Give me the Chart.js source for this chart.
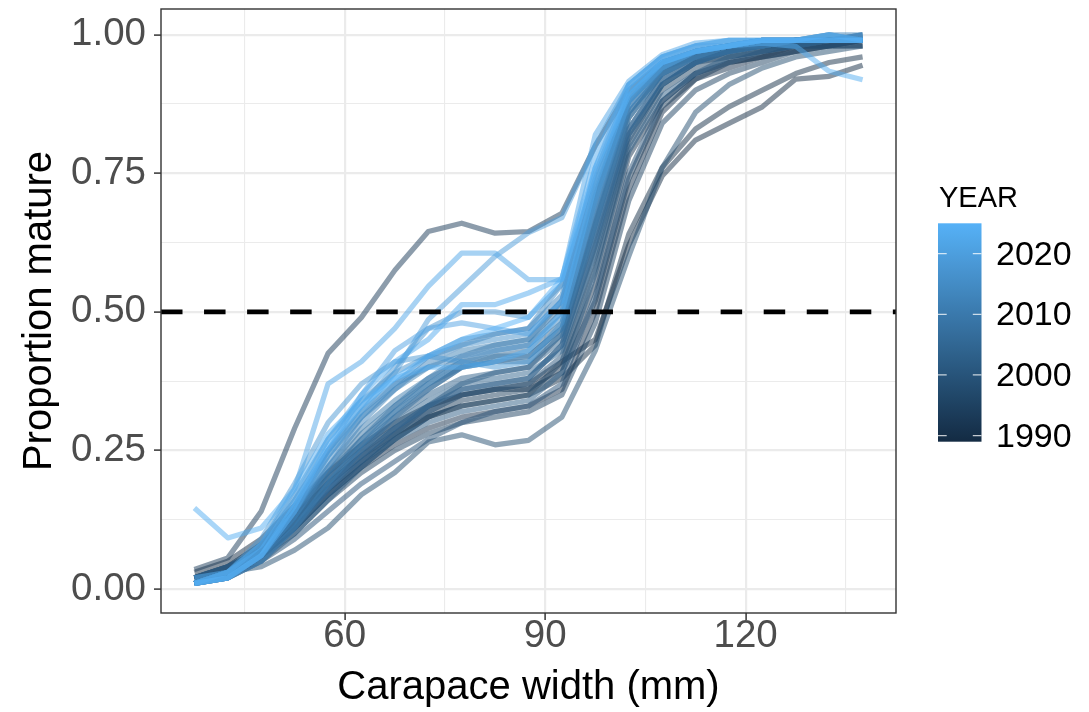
<!DOCTYPE html>
<html>
<head>
<meta charset="utf-8">
<script src="https://cdn.jsdelivr.net/npm/chart.js@4.4.1/dist/chart.umd.min.js"></script>
<style>
  html, body { margin: 0; padding: 0; background: #fff; }
  #wrap { width: 1089px; height: 712px; }
</style>
</head>
<body>
<div id="wrap"><canvas id="maturityChart" width="1089" height="712"></canvas></div>
<script>
// Carapace width bins (mm)
const widths = [37.5, 42.5, 47.5, 52.5, 57.5, 62.5, 67.5, 72.5, 77.5, 82.5, 87.5,
  92.5, 97.5, 102.5, 107.5, 112.5, 117.5, 122.5, 127.5, 132.5, 137.5];

const years = [1989, 1990, 1991, 1992, 1993, 1994, 1995, 1996, 1997, 1998, 1999,
  2000, 2001, 2002, 2003, 2004, 2005, 2006, 2007, 2008, 2009, 2010, 2011, 2012,
  2013, 2014, 2015, 2016, 2017, 2018, 2019, 2021, 2022, 2023, 2024, 2025];

// proportion mature per year, one value per width bin
const p1989 = [0.03, 0.05, 0.09, 0.15, 0.21, 0.26, 0.30, 0.33, 0.35, 0.36, 0.37, 0.41, 0.45, 0.62, 0.745, 0.81, 0.84, 0.87, 0.92, 0.925, 0.945];
const p1990 = [0.02, 0.04, 0.07, 0.13, 0.19, 0.24, 0.28, 0.31, 0.33, 0.34, 0.35, 0.38, 0.44, 0.64, 0.76, 0.83, 0.87, 0.90, 0.93, 0.95, 0.96];
const p1991 = [0.01, 0.03, 0.06, 0.11, 0.17, 0.22, 0.26, 0.29, 0.31, 0.32, 0.33, 0.36, 0.50, 0.72, 0.86, 0.92, 0.94, 0.96, 0.97, 0.98, 0.98];
const p1992 = [0.02, 0.04, 0.08, 0.14, 0.20, 0.25, 0.29, 0.32, 0.35, 0.36, 0.36, 0.40, 0.55, 0.78, 0.88, 0.93, 0.95, 0.96, 0.98, 0.98, 0.99];
const p1993 = [0.035, 0.056, 0.14, 0.29, 0.425, 0.49, 0.575, 0.645, 0.66, 0.642, 0.645, 0.678, 0.80, 0.90, 0.95, 0.97, 0.98, 0.985, 0.99, 0.99, 0.99];
const p1994 = [0.02, 0.04, 0.07, 0.12, 0.18, 0.23, 0.27, 0.31, 0.34, 0.35, 0.36, 0.39, 0.52, 0.74, 0.87, 0.92, 0.95, 0.96, 0.97, 0.98, 0.99];
const p1995 = [0.01, 0.03, 0.06, 0.10, 0.16, 0.21, 0.25, 0.28, 0.30, 0.31, 0.32, 0.35, 0.48, 0.70, 0.84, 0.90, 0.93, 0.95, 0.97, 0.98, 0.98];
const p1996 = [0.02, 0.03, 0.06, 0.11, 0.17, 0.22, 0.27, 0.31, 0.33, 0.34, 0.35, 0.41, 0.58, 0.80, 0.90, 0.94, 0.96, 0.97, 0.98, 0.99, 0.99];
const p1997 = [0.02, 0.04, 0.08, 0.13, 0.19, 0.24, 0.29, 0.33, 0.36, 0.37, 0.38, 0.44, 0.62, 0.82, 0.91, 0.95, 0.96, 0.97, 0.98, 0.99, 0.99];
const p1998 = [0.02, 0.03, 0.04, 0.07, 0.11, 0.17, 0.21, 0.265, 0.278, 0.26, 0.268, 0.31, 0.43, 0.60, 0.76, 0.86, 0.91, 0.94, 0.96, 0.97, 0.98];
const p1999 = [0.01, 0.03, 0.05, 0.09, 0.14, 0.19, 0.23, 0.27, 0.30, 0.32, 0.33, 0.37, 0.53, 0.75, 0.88, 0.93, 0.95, 0.97, 0.98, 0.98, 0.99];
const p2000 = [0.02, 0.04, 0.07, 0.12, 0.18, 0.23, 0.28, 0.32, 0.35, 0.36, 0.37, 0.42, 0.60, 0.81, 0.91, 0.95, 0.97, 0.98, 0.98, 0.99, 0.99];
const p2001 = [0.01, 0.03, 0.06, 0.11, 0.17, 0.23, 0.28, 0.33, 0.37, 0.39, 0.40, 0.46, 0.64, 0.83, 0.92, 0.95, 0.97, 0.98, 0.99, 0.99, 0.99];
const p2002 = [0.01, 0.02, 0.05, 0.10, 0.16, 0.22, 0.27, 0.30, 0.32, 0.33, 0.34, 0.39, 0.57, 0.79, 0.89, 0.93, 0.96, 0.97, 0.98, 0.99, 0.99];
const p2003 = [0.02, 0.04, 0.07, 0.13, 0.20, 0.26, 0.31, 0.35, 0.38, 0.39, 0.40, 0.45, 0.66, 0.85, 0.93, 0.96, 0.97, 0.98, 0.99, 0.99, 0.99];
const p2004 = [0.01, 0.03, 0.06, 0.12, 0.19, 0.25, 0.30, 0.34, 0.37, 0.38, 0.39, 0.43, 0.61, 0.82, 0.91, 0.95, 0.97, 0.98, 0.98, 0.99, 0.99];
const p2005 = [0.01, 0.03, 0.07, 0.14, 0.21, 0.27, 0.32, 0.36, 0.40, 0.42, 0.43, 0.48, 0.67, 0.86, 0.93, 0.96, 0.97, 0.98, 0.99, 0.99, 0.99];
const p2006 = [0.02, 0.03, 0.06, 0.12, 0.18, 0.24, 0.29, 0.33, 0.36, 0.37, 0.38, 0.44, 0.63, 0.83, 0.92, 0.95, 0.97, 0.98, 0.99, 0.99, 0.99];
const p2007 = [0.01, 0.02, 0.05, 0.11, 0.18, 0.25, 0.31, 0.36, 0.40, 0.41, 0.42, 0.47, 0.68, 0.87, 0.94, 0.96, 0.98, 0.98, 0.99, 0.99, 1.00];
const p2008 = [0.01, 0.03, 0.06, 0.13, 0.21, 0.28, 0.33, 0.37, 0.40, 0.41, 0.41, 0.46, 0.65, 0.85, 0.93, 0.96, 0.97, 0.98, 0.99, 0.99, 0.99];
const p2009 = [0.01, 0.02, 0.06, 0.12, 0.20, 0.27, 0.33, 0.38, 0.42, 0.44, 0.45, 0.51, 0.70, 0.88, 0.94, 0.97, 0.98, 0.99, 0.99, 0.99, 1.00];
const p2010 = [0.01, 0.03, 0.07, 0.14, 0.22, 0.29, 0.34, 0.38, 0.41, 0.42, 0.42, 0.47, 0.66, 0.86, 0.93, 0.96, 0.98, 0.98, 0.99, 0.99, 0.99];
const p2011 = [0.01, 0.02, 0.05, 0.11, 0.19, 0.26, 0.32, 0.37, 0.41, 0.43, 0.44, 0.50, 0.71, 0.89, 0.95, 0.97, 0.98, 0.99, 0.99, 1.00, 1.00];
const p2012 = [0.01, 0.03, 0.07, 0.15, 0.24, 0.31, 0.36, 0.40, 0.43, 0.44, 0.45, 0.52, 0.72, 0.88, 0.94, 0.97, 0.98, 0.99, 0.99, 0.99, 0.99];
const p2013 = [0.01, 0.02, 0.06, 0.13, 0.22, 0.30, 0.36, 0.41, 0.44, 0.46, 0.47, 0.53, 0.73, 0.89, 0.95, 0.97, 0.98, 0.99, 0.99, 1.00, 0.99];
const p2014 = [0.01, 0.03, 0.08, 0.16, 0.25, 0.32, 0.37, 0.40, 0.42, 0.43, 0.44, 0.49, 0.69, 0.87, 0.94, 0.97, 0.98, 0.99, 0.99, 0.99, 0.99];
const p2015 = [0.01, 0.02, 0.06, 0.14, 0.23, 0.31, 0.37, 0.42, 0.45, 0.46, 0.47, 0.55, 0.75, 0.90, 0.95, 0.97, 0.98, 0.99, 0.99, 0.99, 1.00];
const p2016 = [0.01, 0.03, 0.08, 0.17, 0.27, 0.34, 0.39, 0.42, 0.44, 0.45, 0.46, 0.52, 0.71, 0.88, 0.95, 0.97, 0.98, 0.99, 0.99, 1.00, 0.99];
const p2017 = [0.01, 0.02, 0.07, 0.15, 0.25, 0.33, 0.40, 0.47, 0.50, 0.50, 0.49, 0.55, 0.74, 0.89, 0.95, 0.97, 0.98, 0.99, 0.99, 0.99, 0.99];
const p2018 = [0.01, 0.03, 0.09, 0.19, 0.30, 0.37, 0.41, 0.42, 0.41, 0.40, 0.41, 0.48, 0.70, 0.88, 0.94, 0.97, 0.98, 0.99, 0.99, 0.99, 0.99];
const p2019 = [0.01, 0.02, 0.06, 0.14, 0.24, 0.32, 0.39, 0.486, 0.543, 0.60, 0.643, 0.67, 0.80, 0.91, 0.96, 0.98, 0.99, 0.99, 0.99, 0.99, 0.99];
const p2021 = [0.01, 0.02, 0.06, 0.14, 0.25, 0.35, 0.43, 0.47, 0.48, 0.47, 0.46, 0.52, 0.76, 0.91, 0.96, 0.98, 0.98, 0.99, 0.99, 0.99, 0.99];
const p2022 = [0.02, 0.03, 0.08, 0.18, 0.37, 0.41, 0.47, 0.546, 0.606, 0.606, 0.558, 0.558, 0.82, 0.916, 0.964, 0.985, 0.99, 0.99, 0.99, 0.99, 0.99];
const p2023 = [0.01, 0.03, 0.07, 0.16, 0.27, 0.35, 0.41, 0.45, 0.513, 0.513, 0.534, 0.56, 0.78, 0.91, 0.96, 0.98, 0.99, 0.99, 0.99, 0.99, 0.99];
const p2024 = [0.146, 0.092, 0.11, 0.18, 0.28, 0.34, 0.38, 0.40, 0.40, 0.41, 0.43, 0.50, 0.73, 0.90, 0.95, 0.97, 0.98, 0.985, 0.979, 0.934, 0.919];
const p2025 = [0.01, 0.02, 0.06, 0.15, 0.26, 0.33, 0.38, 0.42, 0.45, 0.47, 0.49, 0.56, 0.76, 0.89, 0.95, 0.97, 0.98, 0.99, 0.99, 1.00, 0.99];

const proportions = [p1989, p1990, p1991, p1992, p1993, p1994, p1995, p1996, p1997,
  p1998, p1999, p2000, p2001, p2002, p2003, p2004, p2005, p2006, p2007, p2008,
  p2009, p2010, p2011, p2012, p2013, p2014, p2015, p2016, p2017, p2018, p2019,
  p2021, p2022, p2023, p2024, p2025];

// ticks and reference line
const xMajor = [60, 90, 120];
const xMinor = [45, 75, 105, 135];
const yMajor = [0, 0.25, 0.5, 0.75, 1];
const yMinor = [0.125, 0.375, 0.625, 0.875];
const legendBreaks = [1990, 2000, 2010, 2020];
const threshold = 0.5;

const xLimits = [32.5, 142.5];
const yLimits = [-0.0435, 1.0465];
const yearLimits = [1989, 2025];

const FONT = "'Liberation Sans', Arial, Helvetica, sans-serif";
const LOW = [19, 43, 67];     // #132B43
const HIGH = [86, 177, 247];  // #56B1F7

function yearRGB(year) {
  const t = (year - yearLimits[0]) / (yearLimits[1] - yearLimits[0]);
  return LOW.map((c, i) => Math.round(c + (HIGH[i] - c) * t));
}

const isMajor = (list, v) => list.some((m) => Math.abs(m - v) < 1e-9);

// ggplot-like panel border and colourbar legend
const panelAndLegend = {
  id: "panelAndLegend",
  afterDraw(chart) {
    const ctx = chart.ctx;
    const area = chart.chartArea;
    ctx.save();
    ctx.strokeStyle = "#333333";
    ctx.lineWidth = 1.4;
    ctx.strokeRect(area.left, area.top, area.right - area.left, area.bottom - area.top);

    // colourbar
    const bar = { left: 938, top: 223.3, width: 43.5, height: 218.4 };
    const bottom = bar.top + bar.height;
    const grad = ctx.createLinearGradient(0, bottom, 0, bar.top);
    for (let i = 0; i <= 10; i++) {
      const y = yearLimits[0] + (yearLimits[1] - yearLimits[0]) * i / 10;
      const c = yearRGB(y);
      grad.addColorStop(i / 10, `rgb(${c[0]},${c[1]},${c[2]})`);
    }
    ctx.fillStyle = grad;
    ctx.fillRect(bar.left, bar.top, bar.width, bar.height);

    ctx.fillStyle = "#000000";
    ctx.font = `29px ${FONT}`;
    ctx.textAlign = "left";
    ctx.textBaseline = "alphabetic";
    ctx.fillText("YEAR", 939, 206.5);

    ctx.font = `34px ${FONT}`;
    ctx.textBaseline = "middle";
    const tickLen = bar.width / 5;
    legendBreaks.forEach((b) => {
      const y = bottom - (b - yearLimits[0]) / (yearLimits[1] - yearLimits[0]) * bar.height;
      ctx.strokeStyle = "rgba(255,255,255,0.75)";
      ctx.lineWidth = 1.2;
      ctx.beginPath();
      ctx.moveTo(bar.left, y);
      ctx.lineTo(bar.left + tickLen, y);
      ctx.moveTo(bar.left + bar.width - tickLen, y);
      ctx.lineTo(bar.left + bar.width, y);
      ctx.stroke();
      ctx.fillStyle = "#000000";
      ctx.fillText(String(b), 996, y + 1.5);
    });
    ctx.restore();
  },
};

document.addEventListener("DOMContentLoaded", function () {
  const datasets = years.map((year, i) => {
    const c = yearRGB(year);
    return {
      label: String(year),
      data: widths.map((w, j) => ({ x: w, y: proportions[i][j] })),
      borderColor: `rgba(${c[0]},${c[1]},${c[2]},0.5)`,
      borderWidth: 5.2,
      borderJoinStyle: "round",
      borderCapStyle: "butt",
      pointRadius: 0,
      tension: 0,
      order: yearLimits[1] - year + 1,
    };
  });

  datasets.push({
    label: "threshold",
    data: xLimits.map((x) => ({ x: x, y: threshold })),
    borderColor: "#000000",
    borderWidth: 4.7,
    borderDash: [21.5, 21.55],
    borderCapStyle: "butt",
    pointRadius: 0,
    order: 0,
  });

  const gridWidth = (list) => (ctx) =>
    ctx.tick && isMajor(list, ctx.tick.value) ? 2.2 : 1.1;
  const tickColor = (list) => (ctx) =>
    ctx.tick && isMajor(list, ctx.tick.value) ? "#333333" : "rgba(0,0,0,0)";

  new Chart(document.getElementById("maturityChart"), {
    type: "line",
    data: { datasets: datasets },
    plugins: [panelAndLegend],
    options: {
      responsive: false,
      animation: false,
      devicePixelRatio: 1,
      layout: { padding: { left: 0, top: 9, right: 193, bottom: 0 } },
      plugins: { legend: { display: false }, tooltip: { enabled: false } },
      scales: {
        x: {
          type: "linear",
          min: xLimits[0],
          max: xLimits[1],
          afterBuildTicks: (scale) => {
            scale.ticks = [...xMajor, ...xMinor].sort((a, b) => a - b).map((v) => ({ value: v }));
          },
          afterFit: (scale) => {
            scale.height = 99;
            scale.paddingLeft = 0;
            scale.paddingRight = 0;
          },
          border: { display: false },
          grid: {
            color: "#EBEBEB",
            lineWidth: gridWidth(xMajor),
            tickLength: 7,
            tickWidth: 1.5,
            tickColor: tickColor(xMajor),
          },
          ticks: {
            autoSkip: false,
            maxRotation: 0,
            padding: 0,
            color: "#4D4D4D",
            font: { family: FONT, size: 38.5, lineHeight: 0.85 },
            callback: (v) => (isMajor(xMajor, v) ? String(v) : ""),
          },
          title: {
            display: true,
            text: "Carapace width (mm)",
            color: "#000000",
            font: { family: FONT, size: 40, lineHeight: 1.2 },
            padding: { top: 0, bottom: 0 },
          },
        },
        y: {
          type: "linear",
          min: yLimits[0],
          max: yLimits[1],
          afterBuildTicks: (scale) => {
            scale.ticks = [...yMajor, ...yMinor].sort((a, b) => a - b).map((v) => ({ value: v }));
          },
          afterFit: (scale) => {
            scale.width = 161;
            scale.paddingTop = 0;
            scale.paddingBottom = 0;
          },
          border: { display: false },
          grid: {
            color: "#EBEBEB",
            lineWidth: gridWidth(yMajor),
            tickLength: 7,
            tickWidth: 1.5,
            tickColor: tickColor(yMajor),
          },
          ticks: {
            autoSkip: false,
            padding: 8,
            color: "#4D4D4D",
            font: { family: FONT, size: 38.5 },
            callback: (v) => (isMajor(yMajor, v) ? v.toFixed(2) : ""),
          },
          title: {
            display: true,
            text: "Proportion mature",
            color: "#000000",
            font: { family: FONT, size: 40, lineHeight: 1.2 },
            padding: { top: 16, bottom: 0 },
          },
        },
      },
    },
  });
});
</script>
</body>
</html>
